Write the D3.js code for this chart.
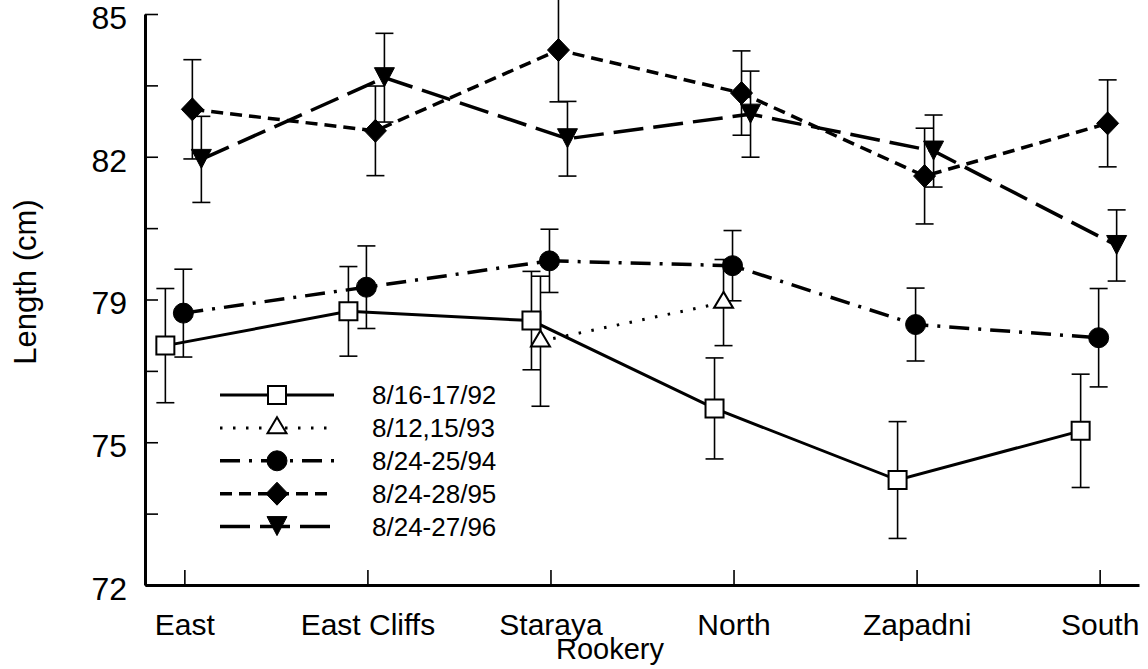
<!DOCTYPE html>
<html>
<head>
<meta charset="utf-8">
<script src="https://cdn.jsdelivr.net/npm/d3@7"></script>
<style>
  html, body { margin: 0; padding: 0; background: #fff; }
  svg { display: block; }
  text { font-family: "Liberation Sans", Arial, sans-serif; fill: #000; }
</style>
</head>
<body>
<svg id="chart" width="1148" height="669"></svg>
<script>
// rookeries on the x axis
var rookeries = ["East", "East Cliffs", "Staraya", "North", "Zapadni", "South"]

// y axis: labelled ticks and the minor ones between them
var yMajor = [72, 75.25, 78.5, 81.75, 85]
var yMajorLabels = ["72", "75", "79", "82", "85"]
var yMinor = [73.625, 76.875, 80.125, 83.375]

// mean length and error per rookery, one pair of arrays per sample period
var len92 = [77.45, 78.23, 78.02, 76.02, 74.39, 75.51]
var err92 = [1.30, 1.02, 1.12, 1.15, 1.33, 1.29]
var len93 = [null, null, 77.55, 78.43, null, null]
var err93 = [null, null, 1.48, 0.98, null, null]
var len94 = [78.19, 78.78, 79.38, 79.27, 77.93, 77.63]
var err94 = [1.00, 0.94, 0.72, 0.80, 0.83, 1.12]
var len95 = [82.83, 82.34, 84.18, 83.20, 81.31, 82.51]
var err95 = [1.13, 1.02, 1.18, 0.96, 1.09, 0.99]
var len96 = [81.69, 83.55, 82.16, 82.72, 81.88, 79.73]
var err96 = [0.98, 1.01, 0.85, 0.98, 0.82, 0.81]

var seriesNames = ["8/16-17/92", "8/12,15/93", "8/24-25/94", "8/24-28/95", "8/24-27/96"]

var series = [
  { name: seriesNames[0], vals: len92, errs: err92, marker: "square", dash: null, width: 3 },
  { name: seriesNames[1], vals: len93, errs: err93, marker: "triUp", dash: "2.5,10.5", width: 3 },
  { name: seriesNames[2], vals: len94, errs: err94, marker: "circle", dash: "20,9,3,9", width: 3.5 },
  { name: seriesNames[3], vals: len95, errs: err95, marker: "diamond", dash: "12,7", width: 3.5 },
  { name: seriesNames[4], vals: len96, errs: err96, marker: "triDown", dash: "30,10", width: 3.5 }
]
// each series sits a little to one side of the rookery tick
var shift = [-19, -10, -1, 8, 17]

var svg = d3.select("#chart")

var x = d3.scalePoint().domain(rookeries).range([145, 1139]).padding(0.215)
var y = d3.scaleLinear().domain([72, 85]).range([585, 14])

function markerPath(kind) {
  switch (kind) {
    case "square": return "M-9,-9H9V9H-9Z"
    case "triUp": return "M0,-10.7L9.5,5.3L-9.5,5.3Z"
    case "triDown": return "M-10,-10H10L0,9Z"
    case "diamond": return "M0,-11.5L11,0L0,11.5L-11,0Z"
    case "circle": return "M-10,0A10,10 0 1,0 10,0A10,10 0 1,0 -10,0Z"
  }
}
function isOpen(kind) { return kind == "square" || kind == "triUp" }

// axes
var yAxis = svg.append("g")
  .attr("transform", "translate(145,0)")
  .call(d3.axisLeft(y).tickValues(yMajor).tickSize(-13).tickSizeOuter(0).tickPadding(18)
    .tickFormat(function (d, i) { return yMajorLabels[i] }))
yAxis.select(".domain").attr("stroke-width", 3)
yAxis.selectAll(".tick line").attr("stroke-width", 1.6)
yAxis.selectAll(".tick text").attr("font-size", 32).attr("dy", "0.45em")
  .style("font-family", "'Liberation Sans', Arial, sans-serif")

var yMinorAxis = svg.append("g")
  .attr("transform", "translate(145,0)")
  .call(d3.axisLeft(y).tickValues(yMinor).tickSize(-13).tickSizeOuter(0).tickFormat(""))
yMinorAxis.select(".domain").remove()
yMinorAxis.selectAll(".tick line").attr("stroke-width", 1.6)

var xAxis = svg.append("g")
  .attr("transform", "translate(0,585)")
  .call(d3.axisBottom(x).tickSize(-15).tickSizeOuter(0).tickPadding(29))
xAxis.select(".domain").attr("stroke-width", 3)
xAxis.selectAll(".tick line").attr("stroke-width", 1.6)
xAxis.selectAll(".tick text").attr("font-size", 30)
  .style("font-family", "'Liberation Sans', Arial, sans-serif")

svg.append("text")
  .attr("transform", "translate(36,282) rotate(-90)")
  .attr("text-anchor", "middle")
  .attr("font-size", 31)
  .text("Length (cm)")

svg.append("text")
  .attr("x", 610).attr("y", 659)
  .attr("text-anchor", "middle")
  .attr("font-size", 29)
  .text("Rookery")

// error bars
series.forEach(function (s, si) {
  var pts = []
  s.vals.forEach(function (v, i) {
    if (v != null) pts.push({ x: x(rookeries[i]) + shift[si], v: v, e: s.errs[i] })
  })
  s.pts = pts
  var g = svg.append("g").attr("stroke", "#000").attr("stroke-width", 1.6).attr("fill", "none")
  g.selectAll(".bar").data(pts).enter().append("line")
    .attr("x1", function (d) { return d.x })
    .attr("x2", function (d) { return d.x })
    .attr("y1", function (d) { return y(d.v + d.e) })
    .attr("y2", function (d) { return y(d.v - d.e) })
  g.selectAll(".capTop").data(pts).enter().append("line")
    .attr("x1", function (d) { return d.x - 9 })
    .attr("x2", function (d) { return d.x + 9 })
    .attr("y1", function (d) { return y(d.v + d.e) })
    .attr("y2", function (d) { return y(d.v + d.e) })
  g.selectAll(".capBot").data(pts).enter().append("line")
    .attr("x1", function (d) { return d.x - 9 })
    .attr("x2", function (d) { return d.x + 9 })
    .attr("y1", function (d) { return y(d.v - d.e) })
    .attr("y2", function (d) { return y(d.v - d.e) })
})

// connecting lines
var line = d3.line().x(function (d) { return d.x }).y(function (d) { return y(d.v) })
series.forEach(function (s) {
  svg.append("path")
    .datum(s.pts)
    .attr("d", line)
    .attr("fill", "none")
    .attr("stroke", "#000")
    .attr("stroke-width", s.width)
    .attr("stroke-dasharray", s.dash)
})

// markers
series.forEach(function (s) {
  svg.selectAll(null).data(s.pts).enter().append("path")
    .attr("transform", function (d) { return "translate(" + d.x + "," + y(d.v) + ")" })
    .attr("d", markerPath(s.marker))
    .attr("fill", isOpen(s.marker) ? "#fff" : "#000")
    .attr("stroke", "#000")
    .attr("stroke-width", isOpen(s.marker) ? 2 : 1)
})

// legend
var legend = svg.append("g")
series.forEach(function (s, i) {
  var ly = 395 + i * 32.9
  legend.append("line")
    .attr("x1", 220).attr("x2", 334)
    .attr("y1", ly).attr("y2", ly)
    .attr("stroke", "#000")
    .attr("stroke-width", s.width)
    .attr("stroke-dasharray", s.dash)
  legend.append("path")
    .attr("transform", "translate(277," + ly + ")")
    .attr("d", markerPath(s.marker))
    .attr("fill", isOpen(s.marker) ? "#fff" : "#000")
    .attr("stroke", "#000")
    .attr("stroke-width", isOpen(s.marker) ? 2 : 1)
  legend.append("text")
    .attr("x", 372).attr("y", ly + 9)
    .attr("font-size", 26)
    .text(s.name)
})
</script>
</body>
</html>
